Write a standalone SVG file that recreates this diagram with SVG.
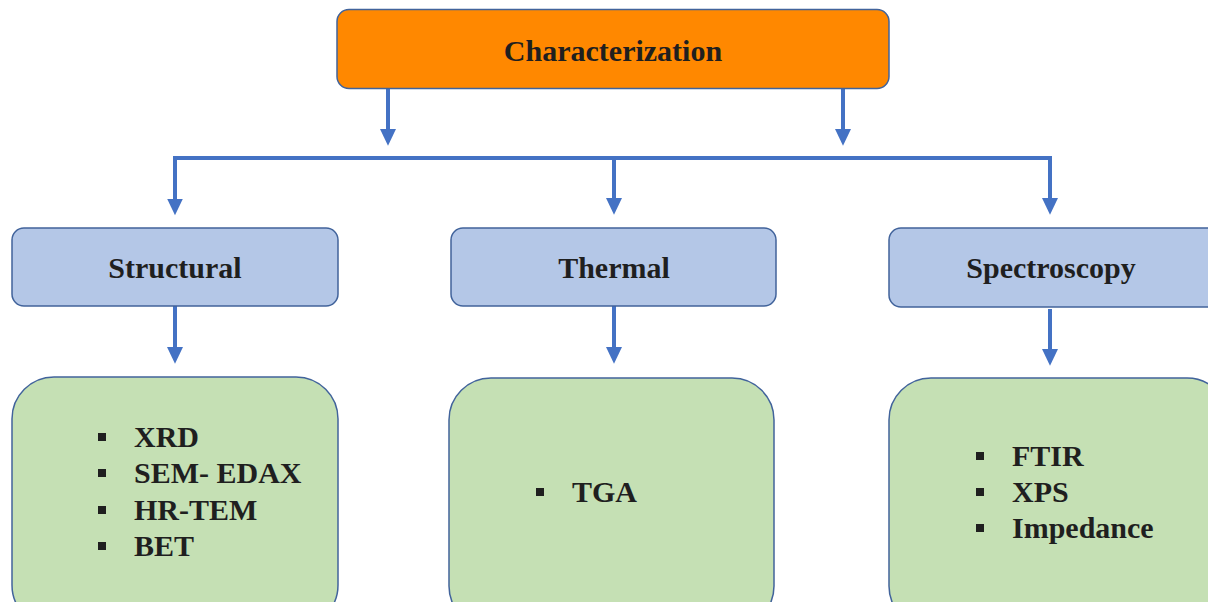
<svg xmlns="http://www.w3.org/2000/svg" width="1208" height="602" viewBox="0 0 1208 602">
<style>
.box{stroke:#41639B;stroke-width:1.5}
.orange{fill:#FF8800}
.blue{fill:#B4C7E7}
.green{fill:#C5E0B4}
.t{font-family:"Liberation Serif","Times New Roman",serif;font-weight:bold;font-size:30px;fill:#1F1F1F}
.c{text-anchor:middle}
.ln{stroke:#4472C4;stroke-width:4;fill:none}
.bul{fill:#1F1F1F}
</style>
<defs>
<marker id="ah" markerWidth="4.5" markerHeight="4" refX="0.5" refY="2" orient="auto" markerUnits="strokeWidth">
<path d="M0,0 L4.2,2 L0,4 Z" fill="#4472C4"/>
</marker>
</defs>
<rect width="1208" height="602" fill="#FFFFFF"/>
<g id="connectors">
<line class="ln" x1="388" y1="88" x2="388" y2="131" marker-end="url(#ah)"/>
<line class="ln" x1="843" y1="88" x2="843" y2="131" marker-end="url(#ah)"/>
<polyline class="ln" points="175,200 175,158 1050,158 1050,200"/>
<line class="ln" x1="175" y1="200" x2="175" y2="200.5" marker-end="url(#ah)"/>
<line class="ln" x1="614" y1="158" x2="614" y2="200" marker-end="url(#ah)"/>
<line class="ln" x1="1050" y1="199" x2="1050" y2="200" marker-end="url(#ah)"/>
<line class="ln" x1="175" y1="306" x2="175" y2="349" marker-end="url(#ah)"/>
<line class="ln" x1="614" y1="306" x2="614" y2="349" marker-end="url(#ah)"/>
<line class="ln" x1="1050" y1="309" x2="1050" y2="351" marker-end="url(#ah)"/>
</g>
<g id="characterization">
<rect class="box orange" x="337" y="9.5" width="552" height="79" rx="12"/>
<text class="t c" x="613" y="61">Characterization</text>
</g>
<g id="structural">
<rect class="box blue" x="12" y="228" width="326" height="78" rx="12"/>
<text class="t c" x="175" y="278">Structural</text>
</g>
<g id="thermal">
<rect class="box blue" x="451" y="228" width="325" height="78" rx="12"/>
<text class="t c" x="614" y="278">Thermal</text>
</g>
<g id="spectroscopy">
<rect class="box blue" x="889" y="228" width="335" height="79" rx="12"/>
<text class="t c" x="1051" y="278">Spectroscopy</text>
</g>
<g id="structural-list">
<rect class="box green" x="12" y="377" width="326" height="250" rx="42"/>
<rect class="bul" x="98" y="433" width="8" height="8"/>
<rect class="bul" x="98" y="469" width="8" height="8"/>
<rect class="bul" x="98" y="506" width="8" height="8"/>
<rect class="bul" x="98" y="542" width="8" height="8"/>
<text class="t" x="134" y="447">XRD</text>
<text class="t" x="134" y="483">SEM- EDAX</text>
<text class="t" x="134" y="520">HR-TEM</text>
<text class="t" x="134" y="556">BET</text>
</g>
<g id="thermal-list">
<rect class="box green" x="449" y="378" width="325" height="250" rx="42"/>
<rect class="bul" x="536" y="488" width="8" height="8"/>
<text class="t" x="572" y="502">TGA</text>
</g>
<g id="spectroscopy-list">
<rect class="box green" x="889" y="378" width="340" height="250" rx="42"/>
<rect class="bul" x="976" y="452" width="8" height="8"/>
<rect class="bul" x="976" y="488" width="8" height="8"/>
<rect class="bul" x="976" y="524" width="8" height="8"/>
<text class="t" x="1012" y="466">FTIR</text>
<text class="t" x="1012" y="502">XPS</text>
<text class="t" x="1012" y="538">Impedance</text>
</g>
</svg>
